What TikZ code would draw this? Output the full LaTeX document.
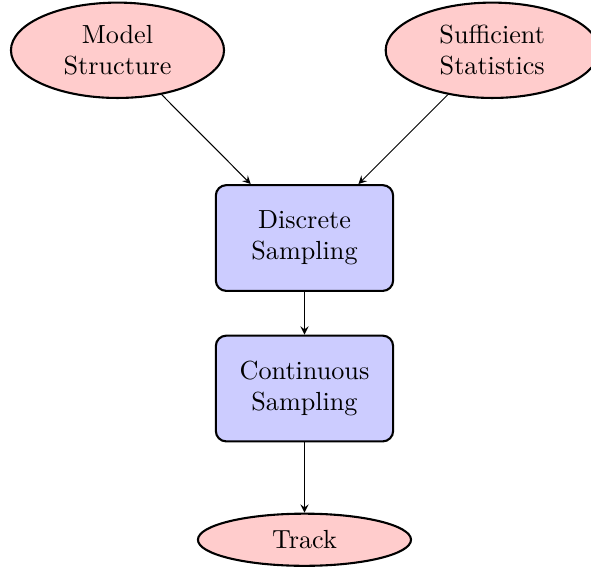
\documentclass[tikz,border=0pt]{standalone}
\usepackage{amsmath}
\usepackage{tikz}
\usetikzlibrary{shapes, arrows}

\tikzset{
	input/.style={ellipse, draw, thick, fill=red!20, align=center, minimum width=2.86cm, minimum height=1.28cm, inner sep=1pt},
	sampler/.style={rectangle, draw, thick, rounded corners, fill=blue!20, align=center, minimum width=2.38cm, minimum height=1.42cm}
}

\begin{document}
\begin{tikzpicture}
	\useasboundingbox (-4.087,-4.443) rectangle (3.846,3.195);
	\node at (-2.51,2.52) [input] (model) {Model\\Structure};
	\node at (2.52,2.52) [input] (stats) {Sufficient\\Statistics};
	\node at (0,0) [sampler] (disc) {Discrete\\Sampling};
	\node at (0,-2.02) [sampler] (cont) {Continuous\\Sampling};
	\node at (0,-4.05) [input, minimum height=0.7cm] (track) {Track};
	\draw[->, >=stealth] (model) -- (disc);
	\draw[->, >=stealth] (stats) -- (disc);
	\draw[->, >=stealth] (disc) -- (cont);
	\draw[->, >=stealth] (cont) -- (track);
\end{tikzpicture}
\end{document}
